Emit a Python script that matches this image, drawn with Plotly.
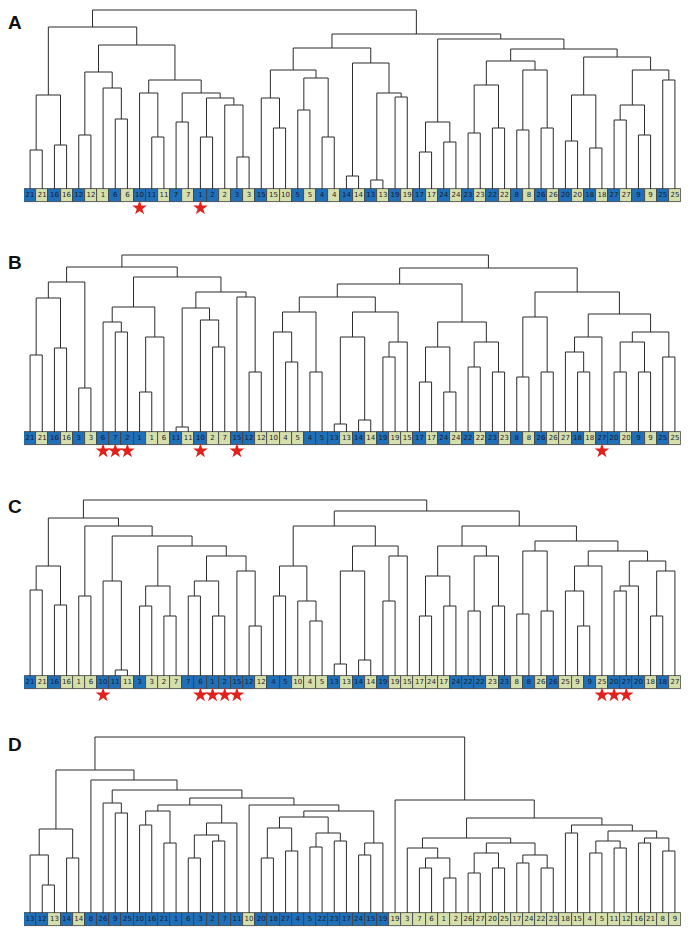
import plotly.graph_objects as go

# leaf labels / colour codes (b = blue, g = green) / star marks, per panel
labels_A = [21,21,16,16,12,12,1,6,6,10,11,11,7,7,1,2,2,3,3,15,15,10,5,5,4,4,14,14,13,13,19,19,17,17,
            24,24,23,23,22,22,8,8,26,26,20,20,18,18,27,27,9,9,25,25]
colors_A = "bgbgbg" "gbg" "bbg" "bg" "bbg" "bg" "bgg" "bg" "bgbgbgbgbgbgbgbgbgbgbgbgbgbgbg"
stars_A = [9, 14]

labels_B = [21,21,16,16,3,3,6,7,2,1,1,6,11,11,10,2,7,15,12,12,10,4,5,4,5,13,13,14,14,19,19,15,17,17,
            24,24,22,22,23,23,8,8,26,26,27,18,18,27,20,20,9,9,25,25]
colors_B = "bgbgbg" "bbbb" "gg" "bg" "bgg" "bb" "gggg" "bbb" "gbgbg" "g" "bgbgbgbgbgbg" "g" "bgb" "bgbgbg"
stars_B = [6, 7, 8, 14, 17, 47]

labels_C = [21,21,16,16,1,6,10,11,11,3,3,2,7,7,6,1,2,15,12,12,4,5,10,4,5,13,13,14,14,19,19,15,17,24,
            17,24,22,22,23,23,8,8,26,26,25,9,9,25,20,27,20,18,18,27]
colors_C = "bgbg" "gg" "bbg" "bg" "ggb" "bbbbb" "g" "bb" "ggg" "bgbgbg" "gggg" "bb" "bgbgbgbg" "g" "bgb" "bbgbgg"
stars_C = [6, 14, 15, 16, 17, 47, 48, 49]

labels_D = [13,12,13,14,14,8,26,9,25,10,16,21,1,6,3,2,7,11,10,20,18,27,4,5,22,23,17,24,15,19,
            19,3,7,6,1,2,26,27,20,25,17,24,22,23,18,15,4,5,11,12,16,21,8,9]
colors_D = "bbgbg" "bbbbbbbbbbbbb" "g" "bbbbbbbbbbb" "gggggggggggggggggggggggg"
stars_D = []

# dendrogram nodes: (first leaf, last leaf, merge height)
nodes_A = [(0,1,39),(2,3,44),(0,3,94),(4,5,54),(7,8,70),(6,8,101),(4,8,117),
           (10,11,52),(9,11,96),(12,13,67),(14,15,52),(17,18,32),(16,18,84),(14,18,91),
           (12,18,96),(9,18,109),(4,18,144),(0,18,162),
           (20,21,61),(19,21,91),(22,23,79),(24,25,52),(22,25,111),(19,25,119),
           (26,27,13),(28,29,9),(30,31,92),(28,31,96),(26,31,126),(19,31,141),
           (32,33,37),(34,35,47),(32,35,67),(36,37,56),(38,39,61),(36,39,104),
           (40,41,59),(42,43,61),(40,43,119),(36,43,128),(44,45,48),(46,47,41),(44,47,94),
           (48,49,69),(50,51,54),(48,51,84),(52,53,109),(48,53,119),(44,53,132),
           (36,53,140),(32,53,150),(19,53,155),(0,53,179)]
nodes_B = [(0,1,77),(2,3,84),(0,3,134),(4,5,44),(0,5,150),
           (7,8,100),(6,8,110),(9,10,40),(9,11,95),(6,11,125),
           (12,13,5),(15,16,85),(14,16,112),(12,16,124),
           (18,19,60),(17,19,135),(12,19,140),(6,19,155),(0,19,165),
           (21,22,70),(20,22,100),(23,24,60),(20,24,120),
           (25,26,8),(27,28,12),(25,28,95),(29,30,75),(29,31,90),(25,31,120),(20,31,135),
           (32,33,50),(34,35,40),(32,35,85),(36,37,65),(38,39,60),(36,39,90),(32,39,110),
           (20,39,148),
           (40,41,55),(42,43,60),(40,43,115),(45,46,60),(44,46,80),(44,47,95),
           (48,49,60),(50,51,60),(48,51,90),(52,53,75),(48,53,100),(44,53,118),
           (40,53,140),(20,53,164),(0,53,177)]
nodes_C = [(0,1,86),(2,3,71),(0,3,110),(4,5,80),(7,8,6),(6,8,95),
           (9,10,70),(11,12,60),(9,12,90),(13,14,80),(15,16,60),(13,16,95),
           (18,19,50),(17,19,105),(13,19,120),(9,19,130),(6,19,140),(4,19,150),(0,19,158),
           (20,21,80),(23,24,55),(22,24,75),(20,24,110),(25,26,12),(27,28,16),(25,28,105),
           (29,30,75),(29,31,120),(25,31,130),(20,31,150),
           (32,33,60),(34,35,70),(32,35,100),(36,37,65),(38,39,70),(36,39,120),(32,39,130),
           (40,41,62),(42,43,65),(40,43,125),(45,46,50),(44,46,85),(44,47,110),
           (48,49,85),(48,50,90),(51,52,60),(51,53,105),(48,53,115),(44,53,125),
           (40,53,135),(32,53,150),(20,53,165),(0,53,176)]
nodes_D = [(1,2,28),(0,2,58),(3,4,55),(0,4,84),
           (7,8,100),(6,8,110),(9,10,88),(11,12,70),(9,12,102),
           (13,14,55),(15,16,72),(13,16,78),(13,17,90),(9,17,108),
           (19,20,55),(21,22,62),(19,22,85),(23,24,66),(25,26,72),(23,26,80),(19,26,96),
           (27,28,58),(27,29,70),(19,29,102),(18,29,108),
           (9,29,115),(6,29,123),(5,29,133),(0,29,143),
           (32,33,45),(34,35,35),(32,35,55),(31,35,65),(36,37,40),(38,39,45),(36,39,60),
           (40,41,50),(42,43,45),(40,43,58),(36,43,70),(31,43,75),
           (44,45,80),(46,47,60),(48,49,65),(46,49,72),(50,51,70),(52,53,62),(50,53,75),
           (46,53,82),(44,53,88),(31,53,95),(30,53,113),(0,53,176)]

# panel: letter, data, baseline px, panel top px, panel bottom px (page has an 8 px body margin)
panels = [
    ("A", labels_A, colors_A, stars_A, nodes_A, 181, 0, 207),
    ("B", labels_B, colors_B, stars_B, nodes_B, 424, 240, 452),
    ("C", labels_C, colors_C, stars_C, nodes_C, 668, 484, 697),
    ("D", labels_D, colors_D, stars_D, nodes_D, 905, 722, 931),
]

H = 939
W = 695
BLUE = "#1f6fb9"
GREEN = "#d5dfac"


def tree_lines(nodes, n):
    pos = {(i, i): (i, 0) for i in range(n)}
    done = [(i, i) for i in range(n)]
    xs, ys = [], []
    for a, b, h in sorted(nodes, key=lambda t: t[1] - t[0]):
        inside = [r for r in done if r[0] >= a and r[1] <= b]
        top = [r for r in inside
               if not any(o != r and o[0] <= r[0] and o[1] >= r[1] for o in inside)]
        cx = [pos[r][0] for r in top]
        for r in top:
            x, ch = pos[r]
            xs += [x, x, None]
            ys += [ch, h, None]
        xs += [min(cx), max(cx), None]
        ys += [h, h, None]
        pos[(a, b)] = ((min(cx) + max(cx)) / 2, h)
        done.append((a, b))
    return xs, ys


fig = go.Figure()
layout = {}
for k, (name, labs, cols, stars, nodes, base, ptop, pbot) in enumerate(panels):
    ax = "" if k == 0 else str(k + 1)
    n = len(labs)
    xs, ys = tree_lines(nodes, n)
    fig.add_trace(go.Scatter(x=xs, y=ys, mode="lines", line=dict(color="#2b2b2b", width=1),
                             xaxis="x" + ax, yaxis="y" + ax, hoverinfo="skip"))
    fig.add_trace(go.Bar(x=list(range(n)), y=[13] * n, base=-13, width=1,
                         marker=dict(color=[BLUE if c == "b" else GREEN for c in cols],
                                     line=dict(color="#3c3c3c", width=0.8)),
                         xaxis="x" + ax, yaxis="y" + ax, hoverinfo="skip"))
    fig.add_trace(go.Scatter(x=list(range(n)), y=[-6.5] * n, mode="text",
                             text=[str(v) for v in labs],
                             textfont=dict(family="DejaVu Sans", size=7, color="#1b1b2e"),
                             xaxis="x" + ax, yaxis="y" + ax, hoverinfo="skip"))
    if stars:
        fig.add_trace(go.Scatter(x=stars, y=[-19] * len(stars), mode="markers",
                                 marker=dict(symbol="star", size=11, color="#e3211c"),
                                 xaxis="x" + ax, yaxis="y" + ax, hoverinfo="skip"))
    layout["xaxis" + ax] = dict(domain=[16 / W, 673 / W], range=[-0.5, n - 0.5],
                                visible=False, anchor="y" + ax, fixedrange=True)
    layout["yaxis" + ax] = dict(domain=[1 - pbot / H, 1 - ptop / H],
                                range=[base - pbot, base - ptop],
                                visible=False, anchor="x" + ax, fixedrange=True)
    fig.add_annotation(x=0, y=1 - (ptop + 2) / H, xref="paper", yref="paper",
                       text="<b>" + name + "</b>", showarrow=False,
                       xanchor="left", yanchor="top", xshift=-2,
                       font=dict(family="Liberation Sans", size=19, color="#111"))

fig.update_layout(width=W, height=H, margin=dict(l=0, r=0, t=0, b=0),
                  plot_bgcolor="white", paper_bgcolor="white",
                  showlegend=False, bargap=0, **layout)
fig.write_html("out.html")
